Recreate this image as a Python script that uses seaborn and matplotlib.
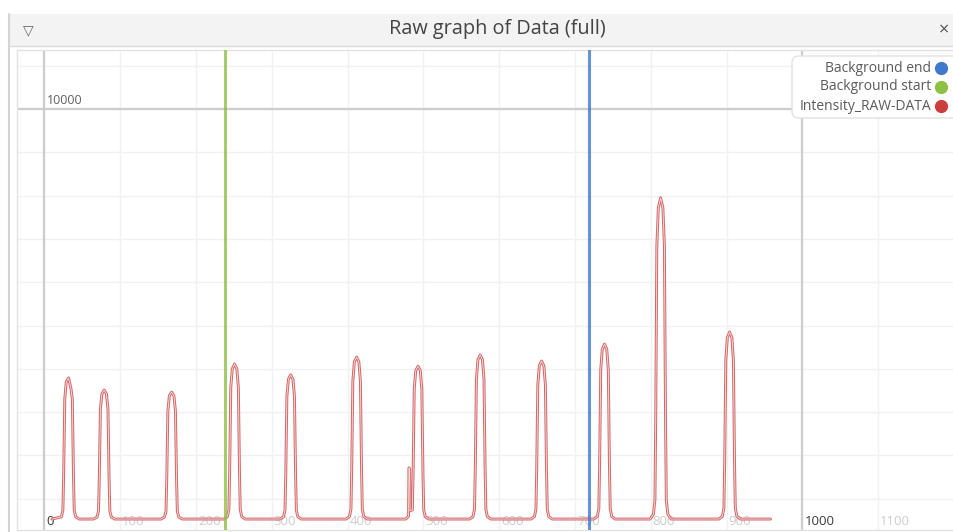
import matplotlib
matplotlib.use('Agg')
import matplotlib.pyplot as plt
import matplotlib.patheffects as pe
import matplotlib.transforms as mtransforms
from matplotlib.patches import Rectangle, FancyBboxPatch
from matplotlib.lines import Line2D
import seaborn as sns
import pandas as pd

sns.set_theme(style='white')
plt.rcParams['font.family'] = ['Open Sans', 'DejaVu Sans']

# ---------------- data ----------------
title = "Raw graph of Data (full)"

channel = [
    10, 22.5, 24.5, 25.5, 27, 29, 32, 35, 37, 38.5, 39.5, 41.5, 46,
    65, 69.5, 71.5, 72.5, 74, 76, 79, 82, 84, 85.5, 86.5, 88.5, 93,
    154, 158.5, 160.5, 161.5, 163, 165, 168, 171, 173, 174.5, 175.5, 177.5, 182,
    237, 241.5, 243.5, 244.5, 246, 248, 251, 254, 256, 257.5, 258.5, 260.5, 265,
    311, 315.5, 317.5, 318.5, 320, 322, 325, 328, 330, 331.5, 332.5, 334.5, 339,
    398, 402.5, 404.5, 405.5, 407, 409, 412, 415, 417, 418.5, 419.5, 421.5, 426,
    477, 480.5, 481, 482, 482.5, 485.5, 486.5, 488, 490, 493, 496, 498, 499.5, 500.5, 502.5, 507,
    561, 565.5, 567.5, 568.5, 570, 572, 575, 578, 580, 581.5, 582.5, 584.5, 589,
    642, 646.5, 648.5, 649.5, 651, 653, 656, 659, 661, 662.5, 663.5, 665.5, 670,
    725, 729.5, 731.5, 732.5, 734, 736, 739, 742, 744, 745.5, 746.5, 748.5, 753,
    799, 803.5, 805.5, 806.5, 808, 810, 813, 816, 818, 819.5, 820.5, 822.5, 827,
    890, 894.5, 896.5, 897.5, 899, 901, 904, 907, 909, 910.5, 911.5, 913.5, 918,
    958,
]
intensity = [
    530, 580, 730, 1510, 3300, 3700, 3790, 3560, 3300, 1510, 730, 580, 530,
    530, 575, 710, 1420, 3060, 3420, 3510, 3420, 3060, 1420, 710, 575, 530,
    530, 575, 705, 1410, 3020, 3380, 3460, 3380, 3020, 1410, 705, 575, 530,
    530, 585, 745, 1600, 3570, 4000, 4110, 4000, 3570, 1600, 745, 585, 530,
    530, 580, 730, 1530, 3360, 3760, 3860, 3760, 3360, 1530, 730, 580, 530,
    530, 585, 755, 1650, 3710, 4160, 4270, 4160, 3710, 1650, 755, 585, 530,
    530, 600, 1710, 1690, 720, 740, 1590, 3530, 3960, 4060, 3960, 3530, 1590, 740, 585, 530,
    530, 585, 755, 1670, 3750, 4210, 4320, 4210, 3750, 1670, 755, 585, 530,
    530, 585, 750, 1620, 3630, 4070, 4180, 4070, 3630, 1620, 750, 585, 530,
    530, 590, 775, 1740, 3970, 4450, 4570, 4450, 3970, 1740, 775, 590, 530,
    530, 640, 975, 2760, 6830, 7720, 7950, 7720, 6830, 2760, 975, 640, 530,
    530, 595, 790, 1830, 4200, 4720, 4850, 4720, 4200, 1830, 790, 595, 530,
    530,
]

background_start = 239
background_end = 718

x_ticks = [0, 100, 200, 300, 400, 500, 600, 700, 800, 900, 1000, 1100]
x_major = [0, 1000]
y_ticks = [1000, 2000, 3000, 4000, 5000, 6000, 7000, 8000, 9000, 10000, 11000]
y_major = [10000]
y_label_ticks = [10000]

legend_labels = ["Background end", "Background start", "Intensity_RAW-DATA"]
legend_colors = ["#3f78cc", "#8dc043", "#cc3d3d"]
trace_color = "#d46a6a"

# ---------------- figure ----------------
W, H = 954, 532
fig = plt.figure(figsize=(W / 100, H / 100), dpi=100)
fig.patch.set_facecolor('white')


def fx(px):
    return px / W


def fy(py):
    return 1 - py / H


# window chrome
fig.add_artist(Rectangle((fx(9), fy(46)), 1 - fx(9), (46 - 14) / H,
                         transform=fig.transFigure, facecolor='#f3f3f3',
                         edgecolor='none', zorder=0))
fig.add_artist(Line2D([fx(9), 1], [fy(46), fy(46)], transform=fig.transFigure,
                      color='#dadada', lw=1))
fig.add_artist(Line2D([fx(9), fx(9)], [fy(14), 0], transform=fig.transFigure,
                      color='#d4d4d4', lw=1.5))
fig.text(fx(497), fy(29), title, ha='center', va='center', fontsize=14.3,
         color='#444444')
fig.text(fx(28), fy(30), "\u25BD", ha='center', va='center', fontsize=10,
         color='#666666', family=['DejaVu Sans'])
fig.text(fx(944), fy(30), "\u00D7", ha='center', va='center', fontsize=13,
         color='#555555')

# plot area
ax = fig.add_axes([fx(17), fy(530), (954 - 17) / W, (530 - 50) / H])
ax.set_facecolor('white')
ax.set_xlim(-36, 1200)
ax.set_ylim(277, 11363)
ax.set_xticks([])
ax.set_yticks([])
for side in ['left', 'top', 'bottom']:
    ax.spines[side].set_color('#e2e2e2')
    ax.spines[side].set_linewidth(1)
ax.spines['right'].set_visible(False)

for t in x_ticks:
    ax.axvline(t, color='#f1f1f1', lw=1, zorder=0)
for t in y_ticks:
    ax.axhline(t, color='#f1f1f1', lw=1, zorder=0)
for t in x_major:
    ax.axvline(t, color='#cdcdcd', lw=1.6, zorder=1)
for t in y_major:
    ax.axhline(t, color='#cdcdcd', lw=1.6, zorder=1)

# tick labels
xt = mtransforms.offset_copy(ax.get_xaxis_transform(), fig=fig, x=2, y=0, units='dots')
for t in x_ticks:
    col = '#3a3a3a' if t in x_major else '#cccccc'
    ax.text(t, 0.018, str(t), transform=xt, ha='left', va='center',
            fontsize=9.5, color=col, zorder=2)
yt = mtransforms.offset_copy(ax.transData, fig=fig, x=3, y=2, units='dots')
for t in y_label_ticks:
    ax.text(0, t, str(t), transform=yt, ha='left', va='bottom', fontsize=9,
            color='#606060', zorder=2)

# background markers
ax.axvline(background_start, color=legend_colors[1], lw=2.2, alpha=0.8, zorder=4)
ax.axvline(background_end, color=legend_colors[0], lw=2.2, alpha=0.8, zorder=4)

# trace
df = pd.DataFrame({'channel': channel, 'intensity': intensity})
sns.lineplot(data=df, x='channel', y='intensity', ax=ax, sort=False,
             estimator=None, color='#f7e0e0', lw=0.6, legend=False, zorder=3,
             path_effects=[pe.Stroke(linewidth=2.1, foreground=trace_color),
                           pe.Normal()])
ax.set_xlabel('')
ax.set_ylabel('')

# legend (right-aligned labels, dots on the right)
fig.add_artist(FancyBboxPatch((792, H - 118), 170, 62,
                              boxstyle='round,pad=0,rounding_size=7',
                              transform=mtransforms.IdentityTransform(),
                              facecolor='white', edgecolor='#e2e2e2', lw=1,
                              zorder=5))
rows = [68, 87, 106]
for lab, col, ry in zip(legend_labels, legend_colors, rows):
    fig.text(fx(931), fy(ry), lab, ha='right', va='center', fontsize=10,
             color='#5a5a5a', zorder=6)
    fig.add_artist(Line2D([fx(941)], [fy(ry)], transform=fig.transFigure,
                          marker='o', markersize=8.5, color=col, ls='', zorder=6))

fig.savefig('out.png', dpi=100)
